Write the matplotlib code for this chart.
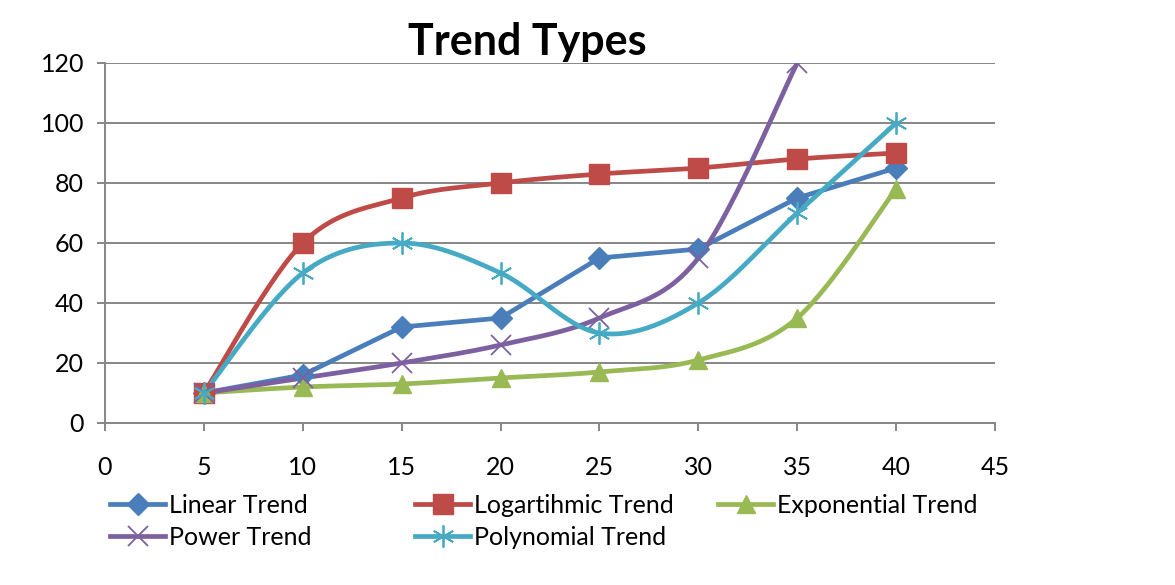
import numpy as np
import matplotlib
matplotlib.use("Agg")
import matplotlib.pyplot as plt
from matplotlib.lines import Line2D

plt.rcParams['font.family'] = ['Lato', 'DejaVu Sans']

x_vals = [5, 10, 15, 20, 25, 30, 35, 40]
linear = [10, 16, 32, 35, 55, 58, 75, 85]
logarithmic = [10, 60, 75, 80, 83, 85, 88, 90]
exponential = [10, 12, 13, 15, 17, 21, 35, 78]
power = [10, 15, 20, 26, 35, 55, 120]
polynomial = [10, 50, 60, 50, 30, 40, 70, 100]

names = ["Linear Trend", "Logartihmic Trend", "Exponential Trend",
         "Power Trend", "Polynomial Trend"]
colors = ["#4A7EBB", "#BE4B48", "#98B954", "#7D60A0", "#46AAC5"]


def smooth(xs, ys, n=30):
    # catmull-rom style bezier, like the spreadsheet "smoothed line"
    pts = np.column_stack([xs, ys]).astype(float)
    ext = np.vstack([pts[0], pts, pts[-1]])
    out = [pts[0]]
    t = np.linspace(0, 1, n)[1:, None]
    for i in range(len(pts) - 1):
        p0 = ext[i + 1]
        p3 = ext[i + 2]
        c1 = p0 + (ext[i + 2] - ext[i]) / 6.0
        c2 = p3 - (ext[i + 3] - ext[i + 1]) / 6.0
        seg = ((1 - t) ** 3) * p0 + 3 * ((1 - t) ** 2) * t * c1 + 3 * (1 - t) * t ** 2 * c2 + t ** 3 * p3
        out.extend(seg)
    out = np.array(out)
    return out[:, 0], out[:, 1]


fig = plt.figure(figsize=(11.75, 5.85), dpi=100)
ax = fig.add_axes([105 / 1175, 1 - 423 / 585, 890 / 1175, 360 / 585])

lw = 3.4
series = [
    (linear, colors[0], 'D', 11, False, dict()),
    (logarithmic, colors[1], 's', 14, True, dict()),
    (exponential, colors[2], '^', 13, True, dict()),
    (power, colors[3], 'x', 14, True, dict(markeredgewidth=1.3)),
    (polynomial, colors[4], (6, 2, 0), 16, True, dict(markeredgewidth=1.3)),
]

handles = []
for (ys, c, m, ms, sm, kw), name in zip(series, names):
    xs = x_vals[:len(ys)]
    if sm:
        sx, sy = smooth(xs, ys)
    else:
        sx, sy = xs, ys
    ax.plot(sx, sy, color=c, lw=lw, solid_capstyle='round', zorder=3)
    ax.plot(xs, ys, linestyle='none', marker=m, markersize=ms, color=c,
            markeredgecolor=c, zorder=4, **kw)
    handles.append(Line2D([0], [0], color=c, lw=lw, marker=m, markersize=ms,
                          markeredgecolor=c, **kw))

ax.set_xlim(0, 45)
ax.set_ylim(0, 120)
ax.set_xticks(range(0, 46, 5))
ax.set_yticks(range(0, 121, 20))
ax.yaxis.grid(True, color='#868686', lw=1.4)
ax.set_axisbelow(True)
for s in ['top', 'right']:
    ax.spines[s].set_visible(False)
for s in ['left', 'bottom']:
    ax.spines[s].set_color('#868686')
    ax.spines[s].set_linewidth(1.4)
ax.tick_params(axis='x', length=6, width=1.4, color='#868686', pad=18, labelsize=18)
ax.tick_params(axis='y', length=6, width=1.4, color='#868686', pad=9, labelsize=18)

fig.text(527 / 1175, 1 - 42 / 585, "Trend Types", ha='center', va='center',
         fontsize=31, fontweight='bold')

# legend laid out row by row in three equal columns
col_x = [110, 415, 718]
top_y = 494
order = [[0, 3], [1, 4], [2]]
for ci, idx in enumerate(order):
    fig.legend([handles[i] for i in idx], [names[i] for i in idx],
               loc='upper left', frameon=False, fontsize=18,
               bbox_to_anchor=(col_x[ci] / 1175, 1 - top_y / 585),
               handlelength=2.2, handletextpad=0.15, labelspacing=0.36,
               borderpad=0, borderaxespad=0)

fig.savefig("out.png", dpi=100)
